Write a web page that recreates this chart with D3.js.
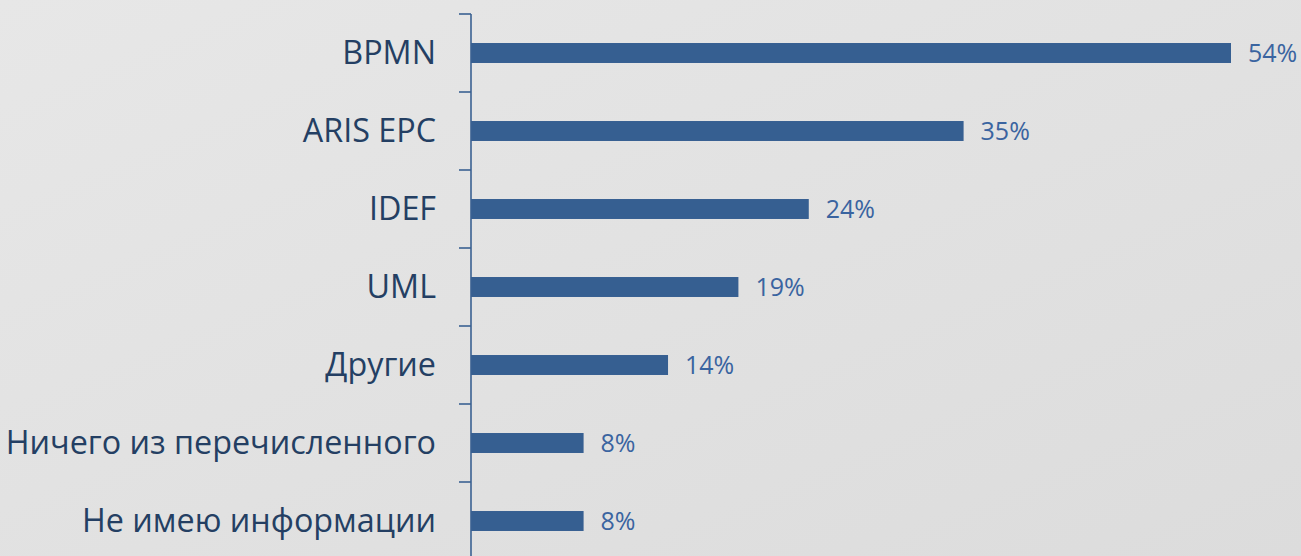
<!DOCTYPE html>
<html>
<head>
<meta charset="utf-8">
<script src="https://cdn.jsdelivr.net/npm/d3@7"></script>
<style>
html,body{margin:0;padding:0;overflow:hidden;}
svg{display:block;}
</style>
</head>
<body>
<svg id="chart" width="1301" height="556"></svg>
<script>
const categories = ["BPMN","ARIS EPC","IDEF","UML","Другие","Ничего из перечисленного","Не имею информации"];
const values = [54,35,24,19,14,8,8];
const valueLabels = ["54%","35%","24%","19%","14%","8%","8%"];

const W = 1301, H = 556;
const svg = d3.select("#chart");
const defs = svg.append("defs");
const grad = defs.append("linearGradient").attr("id","bg").attr("x1","0").attr("y1","0").attr("x2","1").attr("y2","1");
grad.append("stop").attr("offset","0").attr("stop-color","#e7e7e7");
grad.append("stop").attr("offset","1").attr("stop-color","#dcdcdc");
svg.append("rect").attr("width",W).attr("height",H).attr("fill","url(#bg)");

const x = d3.scaleLinear().domain([0,54]).range([471,1231]);
const y = d3.scaleBand().domain(categories).range([14,560]).paddingInner(0.744).paddingOuter(0.372);
const step = y.step();
const axisColor = "#3a6192";

// bars
svg.selectAll("rect.bar").data(categories).enter().append("rect")
  .attr("class","bar")
  .attr("x", x(0))
  .attr("y", d => y(d))
  .attr("width", (d,i) => x(values[i]) - x(0))
  .attr("height", y.bandwidth())
  .attr("fill","#365f91");

// axis line
svg.append("line").attr("x1",x(0)).attr("x2",x(0)).attr("y1",14).attr("y2",560)
  .attr("stroke",axisColor).attr("stroke-width",1.6);
// tick marks at band boundaries
const bounds = d3.range(categories.length+1).map(i => 14 + i*step);
svg.selectAll("line.tick").data(bounds).enter().append("line")
  .attr("class","tick")
  .attr("x1",x(0)-12).attr("x2",x(0))
  .attr("y1",d=>d).attr("y2",d=>d)
  .attr("stroke",axisColor).attr("stroke-width",1.6);

// category labels
svg.selectAll("text.cat").data(categories).enter().append("text")
  .attr("class","cat")
  .attr("x",436)
  .attr("y",d => y(d) + y.bandwidth()/2)
  .attr("dy","0.35em")
  .attr("text-anchor","end")
  .attr("font-family","'Open Sans', sans-serif")
  .attr("font-size",32.3)
  .attr("fill","#243f63")
  .text(d=>d);

// value labels
svg.selectAll("text.val").data(categories).enter().append("text")
  .attr("class","val")
  .attr("x",(d,i) => x(values[i]) + 17)
  .attr("y",d => y(d) + y.bandwidth()/2)
  .attr("dy","0.36em")
  .attr("font-family","'Open Sans', sans-serif")
  .attr("font-size",25)
  .attr("fill","#3a64a0")
  .text((d,i)=>valueLabels[i]);
</script>
</body>
</html>
